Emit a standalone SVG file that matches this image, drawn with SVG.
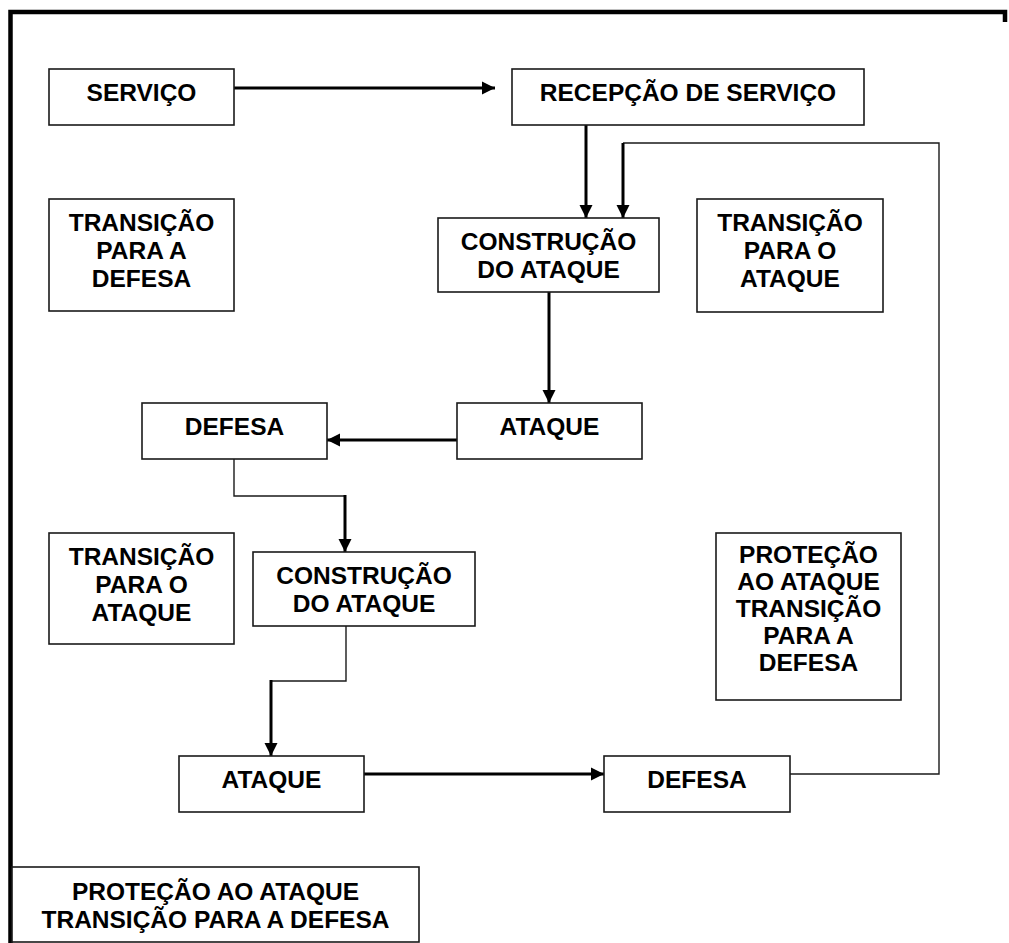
<svg xmlns="http://www.w3.org/2000/svg" width="1009" height="943" viewBox="0 0 1009 943">
<style>
.box{fill:#fff;stroke:#1a1a1a;stroke-width:1.6}
.t{font-family:"Liberation Sans",Arial,sans-serif;font-weight:bold;font-size:24.5px;fill:#000;text-anchor:middle}
.thick{fill:none;stroke:#000;stroke-width:3}
.thin{fill:none;stroke:#1a1a1a;stroke-width:1.4}
.frame{fill:none;stroke:#000;stroke-width:4.5}
</style>
<defs>
<marker id="ah" markerUnits="userSpaceOnUse" markerWidth="14" markerHeight="14" viewBox="0 0 14 14" refX="13" refY="7" orient="auto">
<path d="M0,0.5 L13,7 L0,13.5 Z" fill="#000"/>
</marker>
</defs>
<rect width="1009" height="943" fill="#fff"/>
<g id="frame">
<path class="frame" d="M10.5,943 V12 H1005 V22"/>
</g>
<g id="connectors">
<line class="thick" x1="234" y1="88" x2="495" y2="88" marker-end="url(#ah)"/>
<line class="thick" x1="586" y1="125" x2="586" y2="218" marker-end="url(#ah)"/>
<polyline class="thin" points="790,774 939,774 939,143 623,143"/>
<line class="thick" x1="623" y1="143" x2="623" y2="218" marker-end="url(#ah)"/>
<line class="thick" x1="549" y1="292" x2="549" y2="403" marker-end="url(#ah)"/>
<line class="thick" x1="457" y1="440" x2="327" y2="440" marker-end="url(#ah)"/>
<polyline class="thin" points="234,459 234,496 345,496"/>
<line class="thick" x1="345" y1="495" x2="345" y2="552" marker-end="url(#ah)"/>
<polyline class="thin" points="346,626 346,681 271,681"/>
<line class="thick" x1="271" y1="680" x2="271" y2="756" marker-end="url(#ah)"/>
<line class="thick" x1="364" y1="774" x2="604" y2="774" marker-end="url(#ah)"/>
</g>
<g id="servico">
<rect class="box" x="49" y="69" width="185" height="56"/>
<text class="t" x="141.5" y="101">SERVIÇO</text>
</g>
<g id="recepcao">
<rect class="box" x="512" y="69" width="352" height="56"/>
<text class="t" x="688" y="101">RECEPÇÃO DE SERVIÇO</text>
</g>
<g id="transicao-defesa-1">
<rect class="box" x="49" y="199" width="185" height="112"/>
<text class="t" x="141.5" y="231">TRANSIÇÃO</text>
<text class="t" x="141.5" y="259">PARA A</text>
<text class="t" x="141.5" y="287">DEFESA</text>
</g>
<g id="construcao-1">
<rect class="box" x="438" y="218" width="221" height="74"/>
<text class="t" x="548.5" y="250">CONSTRUÇÃO</text>
<text class="t" x="548.5" y="278">DO ATAQUE</text>
</g>
<g id="transicao-ataque-1">
<rect class="box" x="697" y="199" width="186" height="113"/>
<text class="t" x="790" y="231">TRANSIÇÃO</text>
<text class="t" x="790" y="259">PARA O</text>
<text class="t" x="790" y="287">ATAQUE</text>
</g>
<g id="ataque-1">
<rect class="box" x="457" y="403" width="185" height="56"/>
<text class="t" x="549.5" y="435">ATAQUE</text>
</g>
<g id="defesa-1">
<rect class="box" x="142" y="403" width="185" height="56"/>
<text class="t" x="234.5" y="435">DEFESA</text>
</g>
<g id="transicao-ataque-2">
<rect class="box" x="49" y="533" width="185" height="111"/>
<text class="t" x="141.5" y="565">TRANSIÇÃO</text>
<text class="t" x="141.5" y="593">PARA O</text>
<text class="t" x="141.5" y="621">ATAQUE</text>
</g>
<g id="construcao-2">
<rect class="box" x="253" y="552" width="222" height="74"/>
<text class="t" x="364" y="584">CONSTRUÇÃO</text>
<text class="t" x="364" y="612">DO ATAQUE</text>
</g>
<g id="protecao-1">
<rect class="box" x="716" y="533" width="185" height="167"/>
<text class="t" x="808.5" y="563">PROTEÇÃO</text>
<text class="t" x="808.5" y="590">AO ATAQUE</text>
<text class="t" x="808.5" y="617">TRANSIÇÃO</text>
<text class="t" x="808.5" y="644">PARA A</text>
<text class="t" x="808.5" y="671">DEFESA</text>
</g>
<g id="ataque-2">
<rect class="box" x="179" y="756" width="185" height="56"/>
<text class="t" x="271.5" y="788">ATAQUE</text>
</g>
<g id="defesa-2">
<rect class="box" x="604" y="756" width="186" height="56"/>
<text class="t" x="697" y="788">DEFESA</text>
</g>
<g id="protecao-2">
<rect class="box" x="12" y="867" width="407" height="75"/>
<text class="t" x="215.5" y="900">PROTEÇÃO AO ATAQUE</text>
<text class="t" x="215.5" y="928">TRANSIÇÃO PARA A DEFESA</text>
</g>
</svg>
